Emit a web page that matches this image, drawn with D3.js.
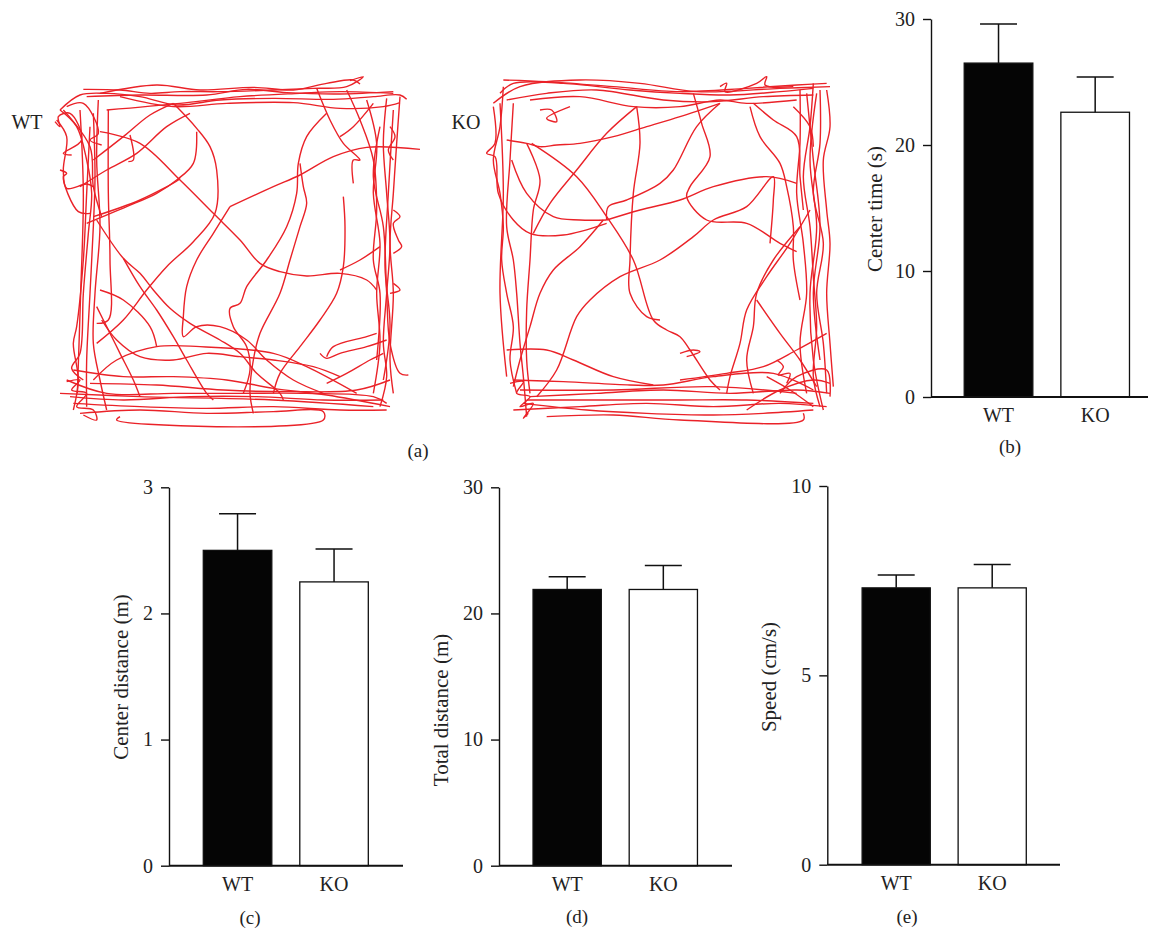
<!DOCTYPE html>
<html>
<head>
<meta charset="utf-8">
<script src="https://cdn.jsdelivr.net/npm/d3@7"></script>
<style>
  body { margin: 0; background: #fff; }
  svg text { font-family: "Liberation Serif", "Times New Roman", serif; fill: #222; }
</style>
</head>
<body>
<svg id="fig" width="1152" height="932"></svg>
<script>
// groups and bar values (mean, SEM)
const groups = ["WT", "KO"];
const centerTime = [26.5, 22.6];
const centerTimeSem = [3.1, 2.8];
const centerDistance = [2.50, 2.25];
const centerDistanceSem = [0.29, 0.26];
const totalDistance = [21.9, 21.9];
const totalDistanceSem = [1.0, 1.9];
const speed = [7.31, 7.31];
const speedSem = [0.34, 0.62];

// open field tracks, camera coordinates
const wtTrack = [
  [[130,88],[240,90],[330,100],[420,95],[540,95],[700,90],[820,85],[920,80],[970,50],[930,62]],
  [[60,150],[120,105],[200,100],[300,110],[410,135],[540,120],[700,115],[880,118],[1000,110],[1080,105],[1100,118]],
  [[200,150],[420,130],[600,110],[780,100],[900,95],[1060,100]],
  [[180,100],[350,75],[480,90],[640,82],[760,90],[860,70],[940,60],[960,72]],
  [[240,110],[400,140],[560,130],[760,128],[900,145],[1030,140],[1080,128]],
  [[140,110],[300,105],[500,105],[620,88],[740,98],[900,102],[1060,95]],
  [[150,200],[140,400],[130,600],[110,800],[100,850],[115,960],[100,1050]],
  [[205,150],[205,400],[210,600],[205,780],[170,790]],
  [[160,160],[165,350],[160,500],[150,700],[140,900],[140,1040]],
  [[175,120],[170,300],[180,500],[165,700],[160,850],[180,960],[200,1050]],
  [[60,150],[110,200],[140,300],[155,400],[145,520],[130,700],[120,880],[95,925],[130,960]],
  [[120,150],[130,400],[122,700],[112,1000]],
  [[50,180],[80,230],[70,330],[80,385],[140,372],[160,380]],
  [[70,150],[150,260],[160,380],[185,470]],
  [[80,140],[130,130],[175,220],[150,240],[185,255]],
  [[45,185],[60,200],[55,170],[90,160],[125,240],[70,280],[95,285]],
  [[60,330],[80,340],[70,350],[115,455],[150,460]],
  [[1040,115],[1030,250],[1040,400],[1050,550],[1040,700],[1030,850],[1040,950],[1020,1040]],
  [[1080,110],[1070,250],[1060,400],[1050,550],[1060,700],[1050,900],[1060,1000]],
  [[980,120],[1010,250],[1000,400],[1020,550],[1010,700],[1020,850],[1000,1000]],
  [[1060,150],[1045,400],[1035,620],[1050,800],[1030,960]],
  [[1020,200],[1000,350],[1030,500],[1040,700],[1050,850],[1080,940],[1105,945]],
  [[920,90],[960,180],[1000,300],[1010,450],[1000,600],[1020,700],[1010,900]],
  [[830,85],[870,180],[910,250],[960,300],[940,300],[940,370]],
  [[1000,130],[940,200],[900,230]],
  [[1050,200],[1065,230],[1045,270],[1060,300]],
  [[1060,450],[1080,470],[1060,490],[1075,540],[1085,560],[1060,580]],
  [[1060,670],[1080,690],[1050,700]],
  [[80,960],[200,1000],[400,1000],[600,1000],[800,1000],[1000,1010],[1040,1030]],
  [[100,1030],[300,1040],[500,1045],[700,1040],[900,1050],[1040,1050]],
  [[120,1060],[300,1050],[500,1060],[700,1055],[850,1055],[850,1080],[230,1080],[240,1070]],
  [[90,1010],[250,1020],[450,1010],[650,1010],[850,1020],[1030,1020]],
  [[60,1000],[300,1010],[700,1020],[1000,1040]],
  [[150,970],[350,975],[550,990],[750,995],[950,990],[1050,960]],
  [[160,960],[230,900],[350,860],[480,860],[700,880],[800,920],[950,1000]],
  [[100,930],[250,950],[400,950],[560,960],[700,985],[860,1005],[1050,1040]],
  [[80,965],[120,960],[95,990],[140,1000],[110,1040],[160,1050],[170,1080],[130,1065]],
  [[180,215],[300,250],[420,360],[520,460],[600,540],[660,610],[720,635],[800,648],[900,640],[980,660],[1010,690]],
  [[400,130],[470,205],[510,260],[530,330],[525,460],[460,545],[380,620],[320,690],[250,780],[170,850]],
  [[170,480],[250,595],[300,640],[340,690],[390,745],[450,790],[540,840],[600,880],[650,940],[720,1000],[730,1020]],
  [[140,490],[260,440],[350,400],[410,360],[460,310],[470,215]],
  [[570,440],[700,380],[780,345],[880,290],[980,262],[1140,268]],
  [[570,440],[520,520],[470,600],[440,680],[430,770],[430,830],[470,800],[540,800],[620,840],[680,900],[760,960],[850,1000]],
  [[780,310],[790,380],[800,430],[780,500],[750,600],[720,700],[660,820],[640,900],[630,1000],[640,1060]],
  [[860,160],[800,230],[775,310],[770,400],[740,500],[680,600],[620,680],[600,730],[570,745],[580,800],[620,860],[630,930],[610,1000]],
  [[910,410],[915,500],[910,620],[890,700],[840,780],[780,860],[720,940],[700,1000]],
  [[900,630],[960,600],[1020,560]],
  [[185,780],[230,840],[300,890],[400,900],[500,880],[600,890],[700,900],[820,920],[900,950]],
  [[250,595],[300,680],[350,750],[400,830],[440,900],[500,1000],[520,1020]],
  [[170,740],[200,800],[240,880],[280,960],[300,1010]],
  [[180,690],[250,720],[330,800],[350,860]],
  [[860,890],[880,860],[980,830],[1010,820]],
  [[860,970],[920,940],[990,900],[1030,880]],
  [[840,880],[860,895],[900,880],[980,860],[1040,840]],
  [[160,300],[250,230],[330,165],[400,130]],
  [[120,380],[200,330],[290,280],[380,200],[450,160]],
  [[270,225],[280,300],[265,305]],
  [[160,470],[300,420],[415,360],[420,355]]
];

const koTrack = [
  [[70,60],[200,65],[400,80],[600,95],[800,85],[950,75],[1040,70]],
  [[60,100],[100,70],[250,70],[450,90],[600,100],[750,105],[900,95],[1000,85]],
  [[80,120],[200,100],[350,90],[550,120],[700,125],[850,110],[1000,105]],
  [[150,120],[300,110],[460,140],[600,140],[720,120],[800,130],[950,120]],
  [[40,130],[120,80],[300,60],[480,70],[650,95],[900,85],[1050,80]],
  [[720,80],[740,70],[735,95],[830,70],[860,50],[855,75],[940,80]],
  [[180,150],[215,150],[230,185],[200,175],[270,140]],
  [[70,80],[60,200],[40,300],[60,400],[70,500],[65,600],[80,700],[100,800],[90,900],[110,1000]],
  [[100,130],[90,300],[80,500],[100,600],[110,700],[120,850],[130,950],[140,1070]],
  [[60,130],[70,400],[60,700],[80,950]],
  [[40,140],[45,250],[20,280],[45,290],[55,400],[100,480],[150,520],[250,525],[380,490]],
  [[80,240],[140,250],[180,260],[230,255],[300,250],[400,230],[500,200],[600,170],[720,130]],
  [[155,250],[290,350],[380,470],[460,600],[520,780],[560,810],[600,830],[630,870],[690,960],[720,990]],
  [[380,480],[480,450],[600,420],[700,380],[860,350],[950,370]],
  [[95,300],[140,400],[220,470],[300,480],[380,480]],
  [[140,250],[180,360],[160,450],[150,600],[140,750],[140,900],[150,1000]],
  [[370,480],[300,560],[220,630],[180,700],[150,800],[120,900],[100,980]],
  [[470,140],[480,250],[460,400],[450,600],[450,700],[500,770],[540,780]],
  [[640,100],[665,190],[690,290],[630,380],[620,410],[680,480],[800,490],[900,550],[950,575]],
  [[470,140],[380,220],[290,330],[210,430],[160,520]],
  [[720,130],[650,200],[580,330],[540,370],[440,420],[385,440],[380,480]],
  [[170,1010],[230,930],[290,770],[330,720],[420,650],[540,600],[640,530],[700,480],[800,440],[880,350],[880,420],[870,550]],
  [[810,140],[840,230],[900,310],[920,380],[940,500],[940,600],[960,720]],
  [[820,130],[880,180],[950,230],[960,350],[970,450]],
  [[940,140],[990,200],[1000,260]],
  [[1000,70],[990,200],[970,350],[990,500],[1000,650],[1010,800],[1000,950],[1020,1040]],
  [[1020,90],[1020,250],[1000,400],[1030,550],[1010,700],[1030,850],[1040,1000]],
  [[1010,100],[990,300],[1010,500],[990,700],[1000,900],[1030,1050]],
  [[960,90],[960,250],[950,400],[970,550],[980,700],[960,850],[980,1000]],
  [[1040,90],[1050,200],[1030,300],[1040,450],[1050,550],[1040,700],[1050,850],[1060,980]],
  [[980,100],[1000,300],[1020,500],[1000,700],[1020,900]],
  [[990,450],[930,550],[860,650],[800,750],[780,850],[750,950],[740,1000]],
  [[960,500],[880,600],[830,700],[820,800],[800,900],[820,1000]],
  [[830,720],[900,820],[960,900],[1010,980]],
  [[1040,820],[950,870],[850,920],[740,940],[600,960]],
  [[900,1000],[950,950],[1040,930],[1050,1010]],
  [[860,950],[930,990],[1000,1040]],
  [[100,960],[250,965],[450,975],[550,975],[700,950],[880,940],[1000,990]],
  [[150,1010],[350,1000],[550,990],[750,1000],[950,990],[1050,1000]],
  [[120,990],[400,990],[700,980],[950,1000]],
  [[100,1050],[300,1040],[500,1030],[700,1040],[900,1030],[1040,1040]],
  [[130,1030],[320,1050],[500,1060],[700,1065],[850,1060],[1000,1050]],
  [[200,1070],[400,1065],[600,1080],[970,1080],[970,1060]],
  [[80,870],[200,870],[280,900],[400,950],[520,975]],
  [[140,1020],[400,1020],[600,1020],[800,1020],[1000,1030]],
  [[800,1050],[900,990],[1000,960],[1050,970]],
  [[90,970],[130,965],[110,1000],[150,1010],[120,1040],[160,1030],[130,1075],[145,1060]],
  [[600,880],[640,870],[660,875],[620,890]],
  [[890,900],[910,920],[895,945],[930,940],[920,970]]
];

const svg = d3.select("#fig");
const red = "#ea2228";

function drawTrack(track, xr, yr, xd, yd) {
  const x = d3.scaleLinear().domain(xd).range(xr);
  const y = d3.scaleLinear().domain(yd).range(yr);
  const line = d3.line().x(d => x(d[0])).y(d => y(d[1])).curve(d3.curveCatmullRom.alpha(0.5));
  svg.append("g")
    .selectAll("path")
    .data(track)
    .enter()
    .append("path")
    .attr("d", line)
    .attr("fill", "none")
    .attr("stroke", red)
    .attr("stroke-width", 1.4)
    .attr("stroke-linejoin", "round");
}

drawTrack(wtTrack, [40, 420], [60, 430], [0, 1140], [0, 1110]);
drawTrack(koTrack, [480, 840], [60, 430], [0, 1080], [0, 1110]);

svg.append("text").attr("x", 27).attr("y", 129).attr("text-anchor", "middle").attr("font-size", 20).text("WT");
svg.append("text").attr("x", 466).attr("y", 129).attr("text-anchor", "middle").attr("font-size", 20).text("KO");
svg.append("text").attr("x", 418).attr("y", 457).attr("text-anchor", "middle").attr("font-size", 19).text("(a)");

function drawBars(p) {
  const y = d3.scaleLinear().domain([0, p.max]).range([p.y0, p.y1]);
  const x = d3.scaleBand().domain(groups).range(p.band).paddingInner(0.29).paddingOuter(0.145);
  const g = svg.append("g");

  const bars = groups.map((k, i) => ({key: k, v: p.values[i], e: p.sem[i]}));

  g.selectAll("rect")
    .data(bars)
    .enter()
    .append("rect")
    .attr("x", d => x(d.key))
    .attr("width", x.bandwidth())
    .attr("y", d => y(d.v))
    .attr("height", d => y(0) - y(d.v))
    .attr("fill", (d, i) => i == 0 ? "#050505" : "#fff")
    .attr("stroke", "#111")
    .attr("stroke-width", 1.3);

  // error bars
  g.selectAll(".err")
    .data(bars)
    .enter()
    .append("path")
    .attr("d", d => {
      const cx = x(d.key) + x.bandwidth() / 2;
      return "M" + cx + "," + y(d.v) + "V" + y(d.v + d.e) + "M" + (cx - 18.5) + "," + y(d.v + d.e) + "H" + (cx + 18.5);
    })
    .attr("fill", "none")
    .attr("stroke", "#111")
    .attr("stroke-width", 1.5);

  const ax = g.append("g")
    .attr("transform", "translate(" + p.x0 + ",0)")
    .call(d3.axisLeft(y).tickValues(p.ticks).tickSize(8).tickSizeOuter(0).tickPadding(8).tickFormat(d3.format("d")));
  ax.attr("font-family", null);
  ax.select(".domain").attr("stroke", "#111").attr("stroke-width", 1.4);
  ax.selectAll(".tick line").attr("stroke", "#111").attr("stroke-width", 1.4);
  ax.selectAll(".tick text").attr("font-size", 20).attr("fill", "#222");

  g.append("line")
    .attr("x1", p.x0).attr("x2", p.x1)
    .attr("y1", y(0)).attr("y2", y(0))
    .attr("stroke", "#111").attr("stroke-width", 2);

  g.selectAll(".xl")
    .data(groups)
    .enter()
    .append("text")
    .attr("x", d => x(d) + x.bandwidth() / 2)
    .attr("y", y(0) + 25)
    .attr("text-anchor", "middle")
    .attr("font-size", 20)
    .text(d => d);

  g.append("text")
    .attr("transform", "translate(" + p.labelX + "," + p.labelY + ") rotate(-90)")
    .attr("text-anchor", "middle")
    .attr("dominant-baseline", "central")
    .attr("font-size", 21)
    .text(p.label);

  g.append("text")
    .attr("x", p.tagX).attr("y", p.tagY)
    .attr("text-anchor", "middle")
    .attr("font-size", 19)
    .text(p.tag);
}

drawBars({values: centerTime, sem: centerTimeSem, max: 30, ticks: [0, 10, 20, 30],
  x0: 931, x1: 1148, y0: 397, y1: 19, band: [950.2, 1143.5],
  label: "Center time (s)", labelX: 875, labelY: 209, tag: "(b)", tagX: 1010, tagY: 453});

drawBars({values: centerDistance, sem: centerDistanceSem, max: 3, ticks: [0, 1, 2, 3],
  x0: 169, x1: 403, y0: 865.7, y1: 487.3, band: [189.3, 382.3],
  label: "Center distance (m)", labelX: 121, labelY: 677, tag: "(c)", tagX: 250, tagY: 924});

drawBars({values: totalDistance, sem: totalDistanceSem, max: 30, ticks: [0, 10, 20, 30],
  x0: 499, x1: 732, y0: 865.7, y1: 487.3, band: [519.1, 711.4],
  label: "Total distance (m)", labelX: 441, labelY: 710, tag: "(d)", tagX: 577, tagY: 923});

drawBars({values: speed, sem: speedSem, max: 10, ticks: [0, 5, 10],
  x0: 827.3, x1: 1060, y0: 864.7, y1: 486, band: [848.2, 1040.2],
  label: "Speed (cm/s)", labelX: 769, labelY: 677, tag: "(e)", tagX: 907, tagY: 923});
</script>
</body>
</html>
